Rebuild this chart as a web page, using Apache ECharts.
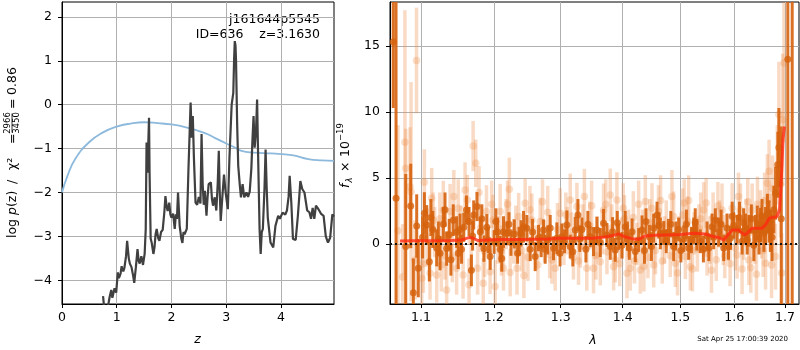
<!DOCTYPE html>
<html>
<head>
<meta charset="utf-8">
<script src="https://cdn.jsdelivr.net/npm/echarts@6/dist/echarts.min.js"></script>
<style>
  html, body { margin: 0; padding: 0; background: #fff; }
  #chart { width: 800px; height: 350px; }
</style>
</head>
<body>
<div id="chart"></div>
<script>
// ---- left panel: log p(z) and prior
var zTicks = [0, 1, 2, 3, 4];
var logTicks = [-4, -3, -2, -1, 0, 1, 2];
var pzZ = [
  0.75, 0.77, 0.80, 0.84, 0.87, 0.90, 0.92, 0.96, 0.99, 1.02,
  1.04, 1.07, 1.09, 1.12, 1.14, 1.17, 1.19, 1.22, 1.24, 1.27,
  1.30, 1.32, 1.35, 1.38, 1.40, 1.42, 1.45, 1.48, 1.51, 1.53,
  1.545, 1.56, 1.575, 1.59, 1.60, 1.62, 1.64, 1.67, 1.69, 1.71,
  1.73, 1.76, 1.78, 1.81, 1.84, 1.87, 1.89, 1.91, 1.93, 1.96,
  1.98, 2.00, 2.03, 2.06, 2.08, 2.10, 2.12, 2.15, 2.18, 2.20,
  2.22, 2.24, 2.28, 2.31, 2.35, 2.37, 2.39, 2.41, 2.44, 2.47,
  2.50, 2.53, 2.55, 2.57, 2.59, 2.61, 2.64, 2.66, 2.68, 2.72,
  2.74, 2.76, 2.79, 2.82, 2.845, 2.865, 2.88, 2.90, 2.93, 2.96,
  2.99, 3.03, 3.06, 3.10, 3.13, 3.145, 3.157, 3.17, 3.18, 3.20,
  3.22, 3.25, 3.27, 3.30, 3.33, 3.37, 3.40, 3.43, 3.46, 3.48,
  3.50, 3.52, 3.545, 3.565, 3.58, 3.61, 3.63, 3.65, 3.67, 3.70,
  3.72, 3.74, 3.76, 3.81, 3.86, 3.90, 3.95, 3.98, 4.03, 4.08,
  4.11, 4.14, 4.16, 4.19, 4.22, 4.27, 4.31, 4.335, 4.355, 4.39,
  4.43, 4.48, 4.52, 4.55, 4.58, 4.61, 4.64, 4.67, 4.70, 4.73,
  4.78, 4.82, 4.86, 4.90, 4.94, 4.97
];
var pzLog = [
  -4.36, -4.62, -4.58, -4.60, -4.38, -4.22, -4.40, -4.18, -4.28, -3.82,
  -3.95, -3.85, -3.68, -3.80, -3.72, -3.45, -3.10, -3.50, -3.62, -3.70,
  -3.90, -4.06, -3.70, -3.29, -3.55, -3.62, -3.45, -3.65, -3.40, -2.83,
  -0.86, -1.55, -0.95, -0.30, -1.55, -3.05, -3.15, -3.40, -3.25, -2.95,
  -2.83, -3.05, -3.10, -2.90, -2.85, -2.45, -2.08, -2.30, -2.42, -2.23,
  -2.50, -2.57, -2.48, -2.83, -2.50, -2.60, -2.00, -2.76, -3.05, -3.15,
  -2.90, -2.95, -2.83, -1.50, 0.05, -0.75, -0.26, -1.20, -2.23, -2.28,
  -2.10, -2.25, -0.67, -1.80, -2.28, -1.96, -2.53, -2.10, -1.81, -1.77,
  -2.15, -2.30, -2.11, -2.41, -1.80, -1.05, -1.90, -2.65, -2.10, -1.59,
  -2.00, -2.38, -1.20, 0.00, 0.27, 1.05, 1.45, 1.35, 1.00, -0.42,
  -1.39, -1.85, -2.11, -1.81, -2.11, -2.00, -2.10, -1.98, -1.45, -0.80,
  -0.26, -0.98, -0.60, 0.12, -0.94, -2.83, -3.40, -2.90, -2.83, -1.90,
  -1.02, -1.90, -2.57, -3.14, -3.25, -2.76, -2.53, -2.60, -2.46, -2.50,
  -2.41, -2.10, -1.62, -2.23, -3.06, -3.08, -2.53, -2.10, -1.74, -1.92,
  -2.00, -2.41, -2.45, -2.60, -2.35, -2.60, -2.30, -2.35, -2.41, -2.48,
  -2.53, -3.00, -3.14, -3.03, -2.50, -2.55
];
var priorZ = [0, 0.1, 0.25, 0.5, 0.75, 1.0, 1.25, 1.5, 1.75, 2.0, 2.25, 2.6, 2.8, 3.03,
  3.15, 3.28, 3.5, 3.83, 4.2, 4.5, 4.75, 4.97];
var priorLog = [-2.0, -1.62, -1.22, -0.85, -0.63, -0.50, -0.43, -0.40, -0.42, -0.45, -0.51, -0.64, -0.76, -0.90,
  -0.97, -1.05, -1.09, -1.11, -1.15, -1.24, -1.27, -1.28];

// ---- right panel: spectrum
var lamTicks = [1.1, 1.2, 1.3, 1.4, 1.5, 1.6, 1.7];
var fluxTicks = [0, 5, 10, 15];
var modelLam = [1.0727, 1.0900, 1.1100, 1.1253, 1.1400, 1.1546, 1.1614, 1.1656, 1.1700, 1.1780,
  1.1900, 1.2100, 1.2300, 1.2535, 1.2800, 1.2966, 1.3200, 1.3490, 1.3700, 1.3850,
  1.3932, 1.4030, 1.4150, 1.4270, 1.4380, 1.4550, 1.4730, 1.5000, 1.5240, 1.5450,
  1.5610, 1.5700, 1.5800, 1.5880, 1.5960, 1.6080, 1.6160, 1.6210, 1.6280, 1.6350,
  1.6540, 1.6620, 1.6680, 1.6840, 1.6890, 1.6910, 1.6940, 1.6960, 1.6990];
var modelFlux = [0.23, 0.24, 0.25, 0.24, 0.27, 0.30, 0.42, 0.50, 0.45, 0.26,
  0.30, 0.33, 0.34, 0.35, 0.38, 0.43, 0.43, 0.43, 0.52, 0.65,
  0.76, 0.55, 0.40, 0.35, 0.60, 0.65, 0.68, 0.72, 0.81, 0.75,
  0.55, 0.50, 0.30, 0.70, 1.06, 1.06, 0.80, 0.68, 0.95, 1.19,
  1.19, 1.50, 1.95, 2.07, 2.60, 3.84, 6.00, 7.90, 8.90];

var darkLam = [
  1.0640, 1.0676, 1.0800, 1.0865, 1.0899, 1.0943, 1.0964, 1.1044, 1.1075, 1.1110,
  1.1155, 1.1208, 1.1253, 1.1297, 1.1342, 1.1377, 1.1432, 1.1478, 1.1500, 1.1546,
  1.1577, 1.1614, 1.1650, 1.1683, 1.1715, 1.1761, 1.1808, 1.1859, 1.1901, 1.1948,
  1.2005, 1.2053, 1.2092, 1.2140, 1.2190, 1.2249, 1.2298, 1.2347, 1.2397, 1.2435,
  1.2484, 1.2534, 1.2609, 1.2659, 1.2735, 1.2761, 1.2838, 1.2889, 1.2941, 1.3018,
  1.3097, 1.3149, 1.3228, 1.3271, 1.3334, 1.3398, 1.3468, 1.3521, 1.3576, 1.3684,
  1.3740, 1.3794, 1.3832, 1.3877, 1.3932, 1.4044, 1.4112, 1.4158, 1.4214, 1.4328,
  1.4397, 1.4454, 1.4529, 1.4588, 1.4646, 1.4704, 1.4790, 1.4880, 1.4970, 1.5061,
  1.5110, 1.5151, 1.5242, 1.5300, 1.5364, 1.5420, 1.5488, 1.5581, 1.5642, 1.5704,
  1.5799, 1.5860, 1.5926, 1.5990, 1.6054, 1.6100, 1.6151, 1.6216, 1.6281, 1.6330,
  1.6379, 1.6446, 1.6509, 1.6578, 1.6646, 1.6708, 1.6776, 1.6810, 1.6856, 1.6877,
  1.6925, 1.7058, 1.7148,
  1.1020, 1.1130, 1.1230, 1.1320, 1.1400, 1.1525, 1.1700, 1.1830, 1.1920, 1.2030,
  1.2115, 1.2220, 1.2370, 1.2570, 1.2700, 1.2800, 1.2990, 1.3060, 1.3190, 1.3300,
  1.3430, 1.3630, 1.3910, 1.3990, 1.4080, 1.4270, 1.4370, 1.4490, 1.4620, 1.4750,
  1.4830, 1.4920, 1.5010, 1.5200, 1.5270, 1.5520, 1.5610, 1.5750, 1.5890, 1.5960,
  1.6180, 1.6250, 1.6410, 1.6480, 1.6540, 1.6610, 1.6680, 1.6740
];
var darkFlux = [
  15.3, 3.46, -0.20, 2.88, -3.70, 1.36, -1.84, 2.32, 1.44, -1.34,
  1.10, -0.30, -0.70, 1.50, -0.35, 0.70, 1.80, 0.90, -0.70, -0.40,
  1.26, 2.57, 1.70, -2.00, 2.20, 2.83, 0.90, -0.35, 1.26, -0.96,
  0.15, 0.90, -0.40, 0.90, 0.80, 0.10, 0.76, -0.70, 0.80, 1.30,
  1.19, -0.40, -0.96, 0.45, 1.06, -0.40, 1.20, -0.33, 0.43, 0.55,
  1.44, -0.20, 1.06, 2.20, 1.10, -0.40, 0.55, 0.18, 1.06, 1.56,
  0.68, -0.20, 0.93, -0.45, 0.55, 1.30, -0.30, 0.93, -0.58, 1.06,
  1.70, 0.55, 1.19, 2.20, 0.80, 0.83, 0.90, -0.20, 1.10, 0.40,
  1.50, -0.30, 1.00, 0.70, 0.20, -0.40, 0.60, 1.30, 1.80, 0.90,
  -0.30, 1.20, 0.45, 1.40, 1.10, 2.00, 0.20, 1.20, 1.00, 1.90,
  -0.10, 1.60, 1.44, 0.80, 2.30, 1.00, 2.60, 3.84, 6.00, 7.30,
  1.90, 14.0, 30.0,
  0.50, 2.00, 0.40, 2.60, -1.20, 1.10, 0.60, 1.90, 0.30, 1.70,
  -1.10, 1.50, 0.20, 0.90, -0.10, 0.30, -0.70, 0.20, -0.60, 0.40,
  1.50, 0.10, 1.60, -0.10, 0.60, 0.30, -0.50, -0.20, 1.40, 0.20,
  1.50, 0.60, -0.50, 0.30, 1.60, -0.30, 0.50, 1.50, -0.20, 2.10,
  1.60, 0.30, 1.00, 0.40, 2.10, 1.40, 1.70, 0.50
];
var darkErr = [
  5.0, 30, 5.5, 3.2, 2.6, 2.4, 2.2, 1.6, 1.5, 1.5,
  1.4, 1.4, 1.3, 1.3, 1.3, 1.2, 1.2, 1.2, 1.2, 1.1,
  1.1, 1.1, 1.1, 1.2, 1.1, 1.1, 1.1, 1.0, 1.0, 1.0,
  0.9, 1.1, 1.0, 1.2, 0.9, 1.0, 1.1, 0.8, 1.0, 1.2,
  1.0, 0.9, 1.1, 1.0, 0.8, 1.1, 1.0, 0.9, 1.2, 1.0,
  1.1, 0.9, 1.0, 1.2, 0.9, 1.0, 0.8, 1.1, 1.0, 1.1,
  0.9, 1.0, 1.1, 0.9, 1.0, 1.2, 0.9, 1.0, 0.8, 1.1,
  1.0, 0.9, 1.1, 1.0, 1.2, 0.9, 1.0, 1.1, 0.9, 1.0,
  1.1, 0.9, 1.0, 1.2, 0.9, 1.0, 1.1, 1.0, 0.9, 1.1,
  1.0, 1.1, 0.9, 1.0, 1.1, 1.2, 1.0, 1.1, 1.2, 1.1,
  1.2, 1.3, 1.3, 1.4, 1.5, 1.6, 1.8, 2.0, 2.5, 3.0,
  7.0, 25, 40,
  1.6, 1.4, 1.3, 1.3, 1.2, 1.2, 1.1, 1.1, 1.0, 1.0,
  1.0, 0.9, 1.1, 1.0, 0.9, 1.1, 1.0, 0.9, 1.1, 1.0,
  1.0, 1.1, 0.9, 1.0, 1.1, 0.9, 1.0, 1.1, 1.0, 0.9,
  1.0, 1.1, 0.9, 1.0, 1.1, 1.0, 0.9, 1.1, 1.0, 1.1,
  1.1, 1.1, 1.2, 1.2, 1.3, 1.4, 1.6, 1.8
];

var lightLam = [
  1.0700, 1.0760, 1.0790, 1.0800, 1.0856, 1.0869, 1.0921, 1.0940, 1.1009, 1.1044,
  1.1080, 1.1119, 1.1141, 1.1180, 1.1208, 1.1250, 1.1297, 1.1320, 1.1342, 1.1389,
  1.1420, 1.1478, 1.1500, 1.1567, 1.1595, 1.1626, 1.1650, 1.1707, 1.1744, 1.1770,
  1.1810, 1.1850, 1.1896, 1.1948, 1.1990, 1.2020, 1.2060, 1.2092, 1.2140, 1.2180,
  1.2225, 1.2238, 1.2290, 1.2338, 1.2362, 1.2410, 1.2459, 1.2500, 1.2559, 1.2620,
  1.2685, 1.2750, 1.2800, 1.2864, 1.2915, 1.2992, 1.3050, 1.3100, 1.3149, 1.3200,
  1.3255, 1.3310, 1.3374, 1.3412, 1.3460, 1.3521, 1.3580, 1.3630, 1.3684, 1.3740,
  1.3794, 1.3849, 1.3877, 1.3904, 1.3980, 1.4030, 1.4073, 1.4129, 1.4180, 1.4240,
  1.4299, 1.4340, 1.4385, 1.4430, 1.4500, 1.4560, 1.4613, 1.4680, 1.4750, 1.4820,
  1.4880, 1.4910, 1.4980, 1.5040, 1.5091, 1.5130, 1.5181, 1.5250, 1.5310, 1.5370,
  1.5425, 1.5488, 1.5540, 1.5600, 1.5660, 1.5720, 1.5767, 1.5820, 1.5880, 1.5959,
  1.6020, 1.6054, 1.6118, 1.6180, 1.6230, 1.6281, 1.6346, 1.6400, 1.6450, 1.6509,
  1.6560, 1.6610, 1.6646, 1.6700, 1.6750, 1.6810, 1.6845, 1.6877, 1.6910, 1.6934,
  1.6954, 1.6980,
  1.1030, 1.1160, 1.1270, 1.1440, 1.1540, 1.1680, 1.1790, 1.1870, 1.1970, 1.2110,
  1.2200, 1.2320, 1.2440, 1.2530, 1.2650, 1.2720, 1.2830, 1.2950, 1.3080, 1.3170,
  1.3280, 1.3350, 1.3490, 1.3560, 1.3660, 1.3720, 1.3820, 1.3950, 1.4010, 1.4100,
  1.4200, 1.4270, 1.4360, 1.4460, 1.4530, 1.4650, 1.4720, 1.4850, 1.4950, 1.5070,
  1.5150, 1.5220, 1.5340, 1.5470, 1.5570, 1.5690, 1.5790, 1.5920, 1.6080, 1.6150,
  1.6260, 1.6320, 1.6430, 1.6530, 1.6590, 1.6680, 1.6730
];
var lightFlux = [
  1.00, -2.50, 7.70, 5.73, 4.34, 3.96, -1.21, 13.9, -2.60, 4.67,
  0.50, -2.22, 3.46, 0.90, -2.35, 1.90, 2.58, -0.90, -3.48, 2.45,
  -1.00, -1.84, 2.70, -2.35, 4.09, 3.33, -3.10, 7.42, 6.11, -1.84,
  1.20, -2.98, 2.45, -2.10, 1.82, -3.23, 0.30, 2.45, -1.84, 1.50,
  4.14, -2.17, 0.20, -1.84, 2.07, -0.50, 3.08, -1.00, 1.82, -0.30,
  1.70, 0.20, 2.40, -1.21, -1.84, 2.32, 0.00, 1.00, 3.33, -1.00,
  2.83, -0.20, 3.59, -1.84, 1.40, -1.84, 0.50, -1.34, 2.58, -0.60,
  3.71, -1.72, -1.21, 3.33, 0.40, 1.90, -2.22, -1.84, 2.00, 0.00,
  -1.97, 0.90, 3.21, -1.00, 2.70, -0.50, 2.45, -1.30, 1.50, -0.90,
  2.07, -1.46, 0.50, 2.20, -0.96, 1.70, -1.72, 0.80, -0.40, 1.90,
  2.58, -0.70, 0.30, 2.00, -1.20, 1.50, 2.58, -0.90, 0.50, 2.70,
  -0.30, -0.83, 2.58, 0.40, 1.60, -1.21, 2.58, 0.30, 3.00, 2.07,
  -0.50, -1.46, 4.60, 1.60, 4.20, -0.96, 6.00, 9.80, 4.50, -2.20,
  9.40, 13.7,
  -1.50, 1.80, -1.60, 3.60, 0.80, 0.20, 3.90, -0.60, 3.00, -0.50,
  3.00, 1.00, -2.40, 2.60, -1.60, 3.20, -0.80, 1.10, 2.20, 0.60,
  -1.30, 1.30, 2.90, -0.90, 0.90, 3.00, 1.20, -1.50, 2.70, 0.80,
  -1.30, 3.00, -1.70, 1.60, -1.60, 3.30, 0.30, 3.60, -2.20, 3.10,
  3.30, -1.90, 1.20, 3.10, -2.00, 2.90, 0.30, -1.50, 3.60, -1.90,
  3.20, -1.80, -2.30, 0.90, 3.30, 5.50, -1.60
];
var lightErr = [
  8.0, 4.0, 10.0, 3.0, 4.5, 8.3, 3.0, 4.0, 2.5, 2.5,
  2.2, 2.0, 2.3, 1.9, 2.1, 2.0, 2.2, 1.8, 2.0, 2.1,
  1.9, 2.0, 2.2, 1.8, 2.1, 1.9, 2.0, 1.9, 1.8, 2.0,
  1.8, 1.9, 2.0, 1.7, 1.9, 2.0, 1.8, 2.1, 1.7, 1.9,
  2.4, 1.8, 1.7, 2.0, 1.8, 1.6, 1.9, 1.8, 2.0, 1.7,
  1.8, 1.6, 2.0, 1.8, 1.7, 1.9, 1.6, 1.8, 2.0, 1.7,
  1.8, 1.6, 2.1, 1.7, 1.8, 1.9, 1.6, 1.8, 2.0, 1.7,
  2.0, 1.8, 1.7, 2.1, 1.6, 1.8, 1.9, 1.7, 2.0, 1.6,
  1.8, 1.7, 2.0, 1.6, 1.9, 1.8, 2.0, 1.7, 1.8, 1.6,
  1.9, 1.8, 1.6, 2.0, 1.7, 1.9, 1.8, 1.6, 1.7, 2.0,
  2.1, 1.7, 1.8, 1.9, 1.6, 1.8, 2.0, 1.7, 1.8, 1.9,
  1.7, 1.8, 2.0, 1.6, 1.8, 1.9, 2.0, 1.8, 2.1, 2.0,
  2.0, 2.0, 2.2, 2.2, 2.5, 2.5, 3.0, 4.0, 4.0, 3.0,
  5.0, 6.0,
  2.2, 2.1, 2.0, 2.0, 2.1, 1.9, 2.0, 1.9, 1.8, 1.9,
  1.8, 1.9, 1.7, 1.8, 1.9, 1.7, 1.8, 2.0, 1.7, 1.8,
  1.8, 1.7, 1.9, 1.8, 1.7, 1.9, 1.8, 1.7, 1.9, 1.8,
  1.7, 1.8, 1.9, 1.8, 1.7, 1.9, 1.8, 2.0, 1.7, 1.8,
  1.9, 1.7, 1.8, 1.9, 1.7, 1.8, 1.9, 1.7, 1.8, 1.9,
  1.8, 1.9, 2.0, 2.0, 2.1, 2.4, 2.5
];

var FONT = 'DejaVu Sans';
var chart = echarts.init(document.getElementById('chart'));

function pairs(xs, ys, fx) {
  return xs.map(function (v, i) { return [fx ? fx(v) : v, ys[i]]; });
}
function triples(xs, ys, es) {
  return xs.map(function (v, i) { return [Math.log(v), ys[i], es[i]]; });
}
function minus(v) {
  return v < 0 ? '\u2212' + Math.abs(v) : String(v);
}
// vertical error bar, cut to the plot area
function errBar(color, width) {
  return function (params, api) {
    var cs = params.coordSys;
    var x = api.value(0), y = api.value(1), e = api.value(2);
    var top = api.coord([x, y + e]), bot = api.coord([x, y - e]);
    var y1 = Math.max(top[1], cs.y), y2 = Math.min(bot[1], cs.y + cs.height);
    if (y2 <= y1) return null;
    return {
      type: 'line',
      shape: { x1: top[0], y1: y1, x2: top[0], y2: y2 },
      style: { stroke: color, lineWidth: width }
    };
  };
}

function makeAxis(grid, min, max, ticks, fmt, margin) {
  return {
    gridIndex: grid, type: 'value', min: min, max: max,
    axisLine: { show: true, onZero: false, lineStyle: { color: '#000', width: 1 } },
    axisTick: { show: true, inside: false, length: 4, customValues: ticks, lineStyle: { color: '#000', width: 1 } },
    axisLabel: { customValues: ticks, formatter: fmt, color: '#000', fontSize: 12.5, fontFamily: FONT, margin: margin },
    splitLine: { show: true, lineStyle: { color: '#b0b0b0', width: 1 } }
  };
}
function txt(x, y, s, size, extra) {
  var st = { text: s, align: 'left', verticalAlign: 'middle', fontSize: size, fontFamily: FONT, fill: '#000' };
  for (var k in extra) st[k] = extra[k];
  return { type: 'text', x: x, y: y, style: st };
}

var lnTicks = lamTicks.map(Math.log);

var option = {
  animation: false,
  backgroundColor: '#fff',
  grid: [
    { left: 62, top: 2, width: 272, height: 302, show: true, borderColor: '#000', borderWidth: 1 },
    { left: 390, top: 2, width: 409, height: 302, show: true, borderColor: '#000', borderWidth: 1 }
  ],
  xAxis: [
    makeAxis(0, 0, 4.97, zTicks, minus, 7),
    makeAxis(1, Math.log(1.0599), Math.log(1.7288), lnTicks,
      function (v) { return Math.exp(v).toFixed(1); }, 7)
  ],
  yAxis: [
    makeAxis(0, -4.54, 2.34, logTicks, minus, 10),
    makeAxis(1, -4.55, 18.33, fluxTicks, minus, 10)
  ],
  series: [
    {
      type: 'line', xAxisIndex: 0, yAxisIndex: 0, data: pairs(priorZ, priorLog),
      smooth: true, showSymbol: false, lineStyle: { color: '#8cb9dc', width: 1.8 }, z: 3
    },
    {
      type: 'line', xAxisIndex: 0, yAxisIndex: 0, data: pairs(pzZ, pzLog),
      showSymbol: false, lineStyle: { color: '#404040', width: 2.2 }, z: 4
    },
    {
      type: 'custom', xAxisIndex: 1, yAxisIndex: 1, data: triples(lightLam, lightFlux, lightErr),
      renderItem: errBar('rgba(236,140,70,0.32)', 3.5), clip: true, z: 2
    },
    {
      type: 'scatter', xAxisIndex: 1, yAxisIndex: 1, data: pairs(lightLam, lightFlux, Math.log),
      symbolSize: 7.5, itemStyle: { color: 'rgba(236,140,70,0.35)' }, z: 2
    },
    {
      type: 'custom', xAxisIndex: 1, yAxisIndex: 1, data: triples(darkLam, darkFlux, darkErr),
      renderItem: errBar('rgba(214,98,12,0.9)', 3), clip: true, z: 3
    },
    {
      type: 'scatter', xAxisIndex: 1, yAxisIndex: 1, data: pairs(darkLam, darkFlux, Math.log),
      symbolSize: 7, itemStyle: { color: '#d4620c' }, z: 3
    },
    {
      type: 'line', xAxisIndex: 1, yAxisIndex: 1, data: pairs(modelLam, modelFlux, Math.log),
      showSymbol: false, lineStyle: { color: '#ff2a12', width: 3, opacity: 0.8 }, z: 5,
      markLine: {
        silent: true, symbol: 'none', label: { show: false },
        lineStyle: { color: '#111', type: [2, 3], width: 2 },
        data: [{ yAxis: 0 }]
      }
    }
  ],
  graphic: [
    txt(320, 20, 'j161644p5545', 12.5, { align: 'right' }),
    txt(320, 34.5, 'ID=636    z=3.1630', 12.5, { align: 'right' }),
    txt(197.5, 340, 'z', 12.5, { align: 'center', fontStyle: 'italic' }),
    txt(593, 341, 'λ', 12.5, { align: 'center', fontStyle: 'italic' }),
    txt(788, 339.5, 'Sat Apr 25 17:00:39 2020', 7, { align: 'right' }),
    {
      // left y title, written bottom to top
      type: 'group', x: 12.5, y: 238, rotation: Math.PI / 2,
      children: [
        { type: 'text', x: 0, y: 0, style: {
          text: '{n|log }{i|p}{n|(z)}', align: 'left', verticalAlign: 'middle',
          rich: {
            n: { fontSize: 12.5, fontFamily: FONT, fill: '#000' },
            i: { fontSize: 12.5, fontFamily: FONT, fontStyle: 'italic', fill: '#000' }
          } } },
        txt(54, 0, '/', 12.5),
        txt(68, 0, 'χ²', 12.5),
        txt(94, 0, '=', 12.5),
        txt(115, -5, '2966', 8.5, { align: 'center' }),
        { type: 'line', shape: { x1: 105.5, y1: -0.5, x2: 124.5, y2: -0.5 }, style: { stroke: '#000', lineWidth: 0.8 } },
        txt(115, 4, '3450', 8.5, { align: 'center' }),
        txt(129, 0, '=', 12.5),
        txt(143, 0, '0.86', 12.5)
      ]
    },
    {
      // right y title
      type: 'group', x: 346, y: 188, rotation: Math.PI / 2,
      children: [
        txt(0, 0, 'f', 12.5, { fontStyle: 'italic' }),
        txt(5.5, 3.5, 'λ', 8.5, { fontStyle: 'italic' }),
        txt(16, 0, '×', 12.5),
        txt(31, 0, '10', 12.5),
        txt(47, -5.5, '\u221219', 8.5)
      ]
    }
  ]
};
chart.setOption(option);
</script>
</body>
</html>
